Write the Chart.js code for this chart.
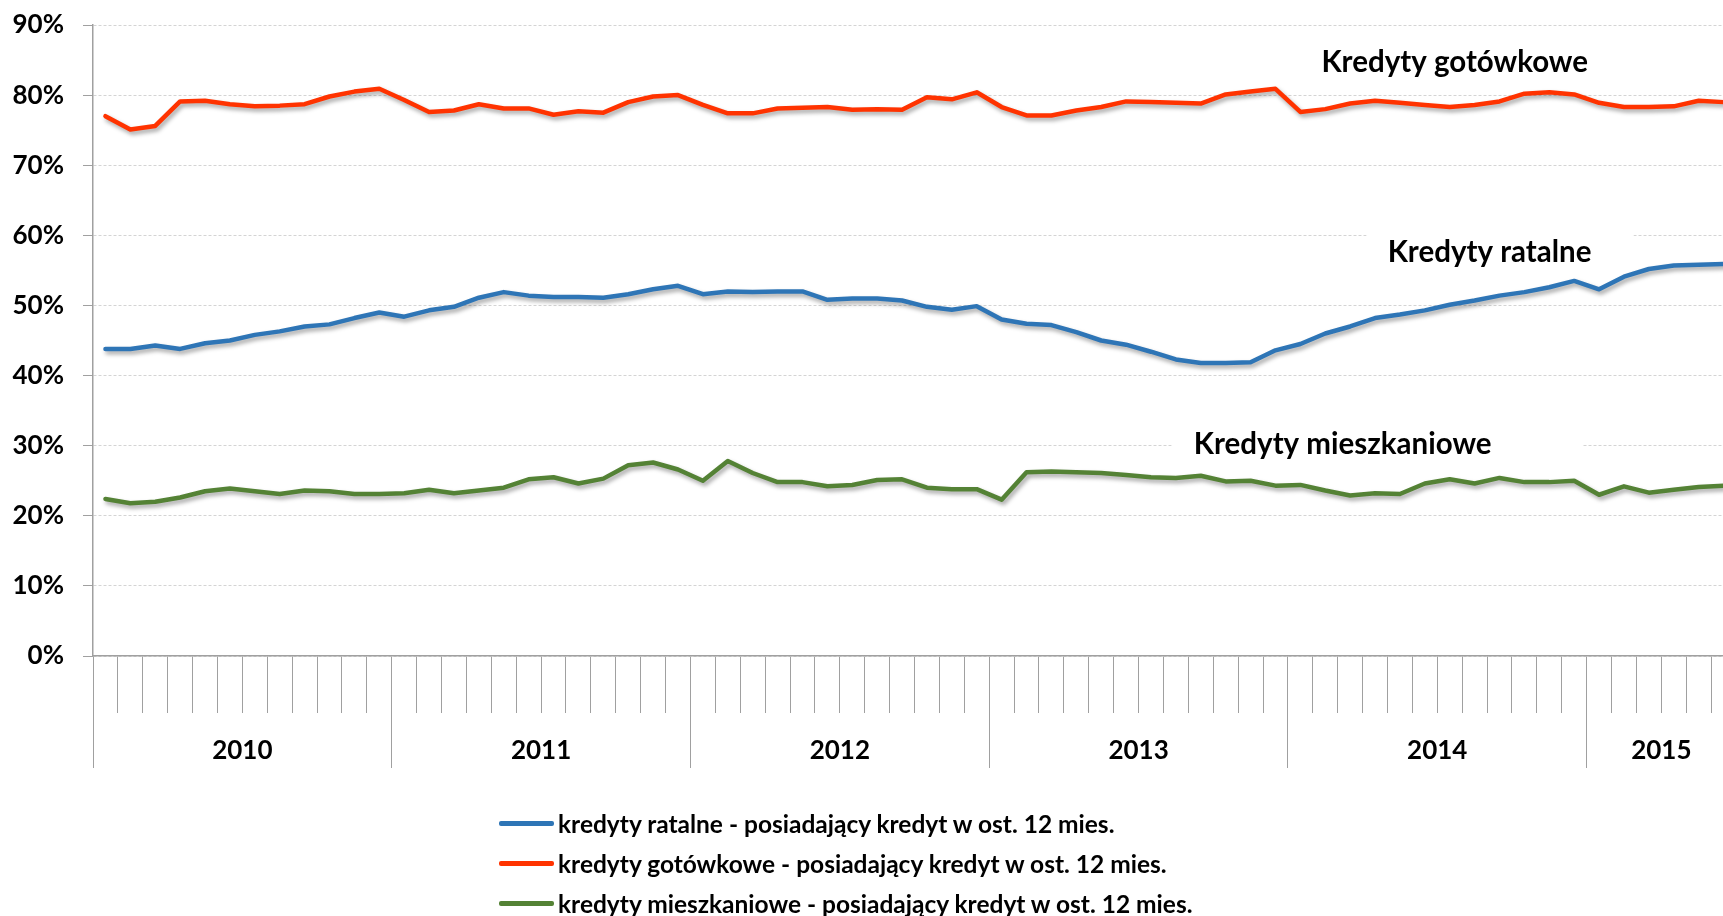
<!DOCTYPE html>
<html lang="pl">
<head>
<meta charset="utf-8">
<title>Kredyty - posiadający kredyt w ost. 12 mies.</title>
<script src="https://cdn.jsdelivr.net/npm/chart.js@4.4.1/dist/chart.umd.min.js"></script>
<style>
    html, body { margin: 0; padding: 0; background: #fff; overflow: hidden; }
    #wrap { position: absolute; left: 0; top: 0; width: 1736px; height: 916px; }
    #legenda { position: absolute; left: 499px; top: 803px; font: bold 24.5px Lato, sans-serif; color: #000; }
    .poz { display: flex; align-items: center; height: 40px; white-space: nowrap; }
    .kreska { display: inline-block; width: 55px; height: 5px; border-radius: 2px; margin-right: 4px; }
</style>
</head>
<body>
<div id="wrap"><canvas id="wykres"></canvas></div>
<div id="legenda"></div>
<script>
// lata i liczba miesięcy widocznych w każdym roku
var lata = ['2010', '2011', '2012', '2013', '2014', '2015'];
var miesiaceWRoku = [12, 12, 12, 12, 12, 6];

// odsetek (%) posiadających kredyt w ost. 12 mies., dane miesięczne
var kredytyRatalne = [
    43.8, 43.8, 44.3, 43.8, 44.6, 45.0, 45.8, 46.3, 47.0, 47.3, 48.2, 49.0,
    48.4, 49.3, 49.8, 51.1, 51.9, 51.4, 51.2, 51.2, 51.1, 51.6, 52.3, 52.8,
    51.6, 52.0, 51.9, 52.0, 52.0, 50.8, 51.0, 51.0, 50.7, 49.8, 49.4, 49.9,
    48.0, 47.4, 47.2, 46.2, 45.0, 44.4, 43.4, 42.3, 41.8, 41.8, 41.9, 43.6,
    44.5, 46.0, 47.0, 48.2, 48.7, 49.3, 50.1, 50.7, 51.4, 51.9, 52.6, 53.5,
    52.3, 54.1, 55.2, 55.7, 55.8, 55.9
];
var kredytyGotowkowe = [
    77.0, 75.1, 75.6, 79.1, 79.2, 78.7, 78.4, 78.5, 78.7, 79.8, 80.5, 80.9,
    79.3, 77.6, 77.8, 78.7, 78.1, 78.1, 77.2, 77.7, 77.5, 79.0, 79.8, 80.0,
    78.6, 77.4, 77.4, 78.1, 78.2, 78.3, 77.9, 78.0, 77.9, 79.7, 79.4, 80.4,
    78.3, 77.1, 77.1, 77.8, 78.3, 79.1, 79.0, 78.9, 78.8, 80.1, 80.5, 80.9,
    77.6, 78.0, 78.8, 79.2, 78.9, 78.6, 78.3, 78.6, 79.1, 80.2, 80.4, 80.1,
    78.9, 78.3, 78.3, 78.4, 79.2, 79.0
];
var kredytyMieszkaniowe = [
    22.4, 21.8, 22.0, 22.6, 23.5, 23.9, 23.5, 23.1, 23.6, 23.5, 23.1, 23.1,
    23.2, 23.7, 23.2, 23.6, 24.0, 25.2, 25.5, 24.6, 25.3, 27.2, 27.6, 26.6,
    25.0, 27.8, 26.1, 24.8, 24.8, 24.2, 24.4, 25.1, 25.2, 24.0, 23.8, 23.8,
    22.3, 26.2, 26.3, 26.2, 26.1, 25.8, 25.5, 25.4, 25.7, 24.9, 25.0, 24.3,
    24.4, 23.6, 22.9, 23.2, 23.1, 24.6, 25.2, 24.6, 25.4, 24.8, 24.8, 25.0,
    23.0, 24.2, 23.3, 23.7, 24.1, 24.3
];

// etykiety kategorii: rok-miesiąc
var miesiace = [];
lata.forEach(function (rok, r) {
    for (var m = 1; m <= miesiaceWRoku[r]; m++) {
        miesiace.push(rok + '-' + (m < 10 ? '0' + m : m));
    }
});

// podpisy serii na wykresie (indeks kategorii, wartość w %)
var podpisy = [
    { tekst: 'Kredyty gotówkowe', idx: 54.2, wart: 84.6, tlo: null },
    { tekst: 'Kredyty ratalne', idx: 55.6, wart: 57.6, tlo: [21, 42] },
    { tekst: 'Kredyty mieszkaniowe', idx: 49.7, wart: 30.2, tlo: [22, 91] }
];

var szary = '#a0a0a0';
var czcionka = 'Lato, sans-serif';

var podpisyPlugin = {
    id: 'podpisy',
    beforeDatasetsDraw: function (chart) {
        var ctx = chart.ctx;
        var sx = chart.scales.x, sy = chart.scales.y;
        ctx.save();
        ctx.font = 'bold 29.5px ' + czcionka;
        ctx.textAlign = 'center';
        ctx.textBaseline = 'middle';
        podpisy.forEach(function (p) {
            var px = sx.getPixelForValue(p.idx);
            var py = sy.getPixelForValue(p.wart);
            var w = ctx.measureText(p.tekst).width;
            if (p.tlo) {
                ctx.fillStyle = '#fff';
                ctx.fillRect(px - w / 2 - p.tlo[0], py - 22, w + p.tlo[0] + p.tlo[1], 44);
            }
            ctx.fillStyle = '#000';
            ctx.fillText(p.tekst, px, py);
        });
        ctx.restore();
    }
};

// cień pod liniami jak w Excelu
var cienPlugin = {
    id: 'cien',
    beforeDatasetsDraw: function (chart) {
        var ctx = chart.ctx;
        ctx.save();
        ctx.shadowColor = 'rgba(0, 0, 0, 0.35)';
        ctx.shadowBlur = 4;
        ctx.shadowOffsetX = 2;
        ctx.shadowOffsetY = 3;
    },
    afterDatasetsDraw: function (chart) {
        chart.ctx.restore();
    }
};

function seria(label, data, kolor) {
    return {
        label: label,
        data: data,
        borderColor: kolor,
        backgroundColor: kolor,
        borderWidth: 4.5,
        pointRadius: 0,
        tension: 0,
        fill: false,
        borderJoinStyle: 'round',
        borderCapStyle: 'round'
    };
}

var ctx = document.getElementById('wykres').getContext('2d');
var wykres = new Chart(ctx, {
    type: 'line',
    data: {
        labels: miesiace,
        datasets: [
            seria('kredyty ratalne - posiadający kredyt w ost. 12 mies.', kredytyRatalne, '#2e75b6'),
            seria('kredyty gotówkowe - posiadający kredyt w ost. 12 mies.', kredytyGotowkowe, '#ff3300'),
            seria('kredyty mieszkaniowe - posiadający kredyt w ost. 12 mies.', kredytyMieszkaniowe, '#548235')
        ]
    },
    options: {
        responsive: true,
        maintainAspectRatio: false,
        animation: false,
        layout: { padding: { top: 25, bottom: 148, left: 0, right: 0 } },
        plugins: {
            legend: { display: false },
            tooltip: { enabled: false }
        },
        scales: {
            x: {
                type: 'category',
                offset: true,
                weight: 0,
                grid: { offset: true, drawOnChartArea: false, drawTicks: true, tickLength: 57, tickColor: szary, tickWidth: 1 },
                border: { display: true, color: szary, width: 1.5 },
                ticks: { display: false, autoSkip: false }
            },
            lata: {
                type: 'category',
                axis: 'x',
                position: 'bottom',
                offset: true,
                weight: 1,
                grid: {
                    offset: true,
                    drawOnChartArea: false,
                    tickLength: 55,
                    tickWidth: 1,
                    tickColor: function (c) {
                        var lab = miesiace[c.index];
                        return lab && lab.slice(5) === '01' ? szary : 'rgba(0,0,0,0)';
                    }
                },
                border: { display: false },
                ticks: {
                    autoSkip: false,
                    maxRotation: 0,
                    minRotation: 0,
                    padding: -33,
                    labelOffset: 12.45,
                    color: '#000',
                    font: { family: czcionka, weight: 'bold', size: 26 },
                    callback: function (value, index) {
                        var lab = miesiace[index];
                        var r = lata.indexOf(lab.slice(0, 4));
                        var m = parseInt(lab.slice(5), 10) - 1;
                        return m === Math.floor((miesiaceWRoku[r] - 1) / 2) ? lata[r] : '';
                    }
                },
                afterFit: function (s) { s.height = 55; }
            },
            y: {
                min: 0,
                max: 90,
                ticks: {
                    stepSize: 10,
                    padding: 19,
                    color: '#000',
                    font: { family: czcionka, weight: 'bold', size: 26 },
                    callback: function (v) { return v + '%'; }
                },
                grid: { color: '#d4d4d4', lineWidth: 1, tickLength: 10, tickColor: szary },
                border: { color: szary, width: 1.5, dash: [3, 2] },
                afterFit: function (s) {
                    s.width = 93;
                    s.paddingTop = 0;
                    s.paddingBottom = 0;
                }
            }
        }
    },
    plugins: [podpisyPlugin, cienPlugin]
});

// legenda w kolumnie pod wykresem
var legenda = document.getElementById('legenda');
wykres.data.datasets.forEach(function (ds) {
    var wiersz = document.createElement('div');
    wiersz.className = 'poz';
    var kreska = document.createElement('span');
    kreska.className = 'kreska';
    kreska.style.background = ds.borderColor;
    var tekst = document.createElement('span');
    tekst.textContent = ds.label;
    wiersz.appendChild(kreska);
    wiersz.appendChild(tekst);
    legenda.appendChild(wiersz);
});
</script>
</body>
</html>
